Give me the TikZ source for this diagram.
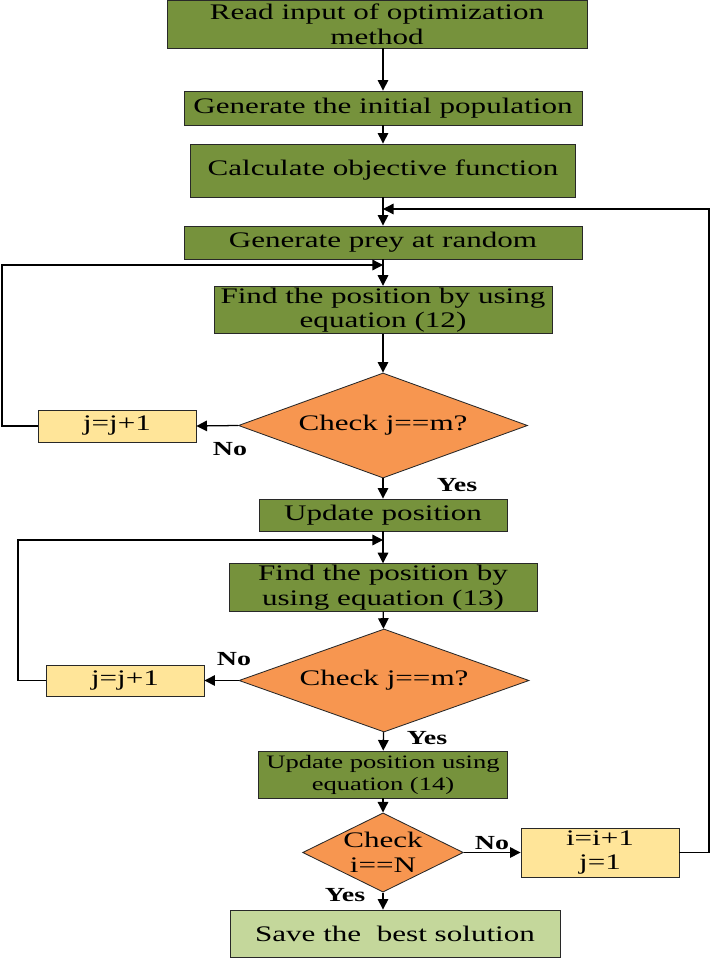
\documentclass[tikz,border=0pt]{standalone}
\usepackage{fontspec}
\setmainfont{Liberation Serif}[FakeStretch=1.4]
\usetikzlibrary{positioning, arrows.meta, shapes.geometric}
\definecolor{stepgreen}{RGB}{118,146,60}
\definecolor{checkorange}{RGB}{247,150,80}
\definecolor{countyellow}{RGB}{255,229,153}
\definecolor{endgreen}{RGB}{196,215,155}
\definecolor{edgegrey}{RGB}{40,40,40}
\tikzset{
    stepbox/.style={rectangle, draw=edgegrey, fill=stepgreen, line width=0.6pt, align=center, inner sep=1pt, font=\fontsize{15.8}{17.5}\selectfont},
    smallstep/.style={stepbox, font=\fontsize{13.5}{15.6}\selectfont},
    countbox/.style={stepbox, fill=countyellow},
    endbox/.style={stepbox, fill=endgreen},
    checkbox/.style={diamond, draw=edgegrey, fill=checkorange, line width=0.6pt, align=center, inner sep=0pt, font=\fontsize{15.8}{17.5}\selectfont},
    arr/.style={-{Triangle[length=7.5pt, width=7.5pt]}, line width=0.9pt, black},
    yesno/.style={font=\fontsize{14.2}{15}\selectfont\bfseries}
}
\begin{document}
\begin{tikzpicture}[x=0.025cm, y=-0.025cm]
    \useasboundingbox (0,0) rectangle (710,958);

    % Main steps
    \node[stepbox, minimum width=10.5cm, minimum height=1.2cm] (read) at (377,24) {Read input of optimization\\method};
    \node[stepbox, minimum width=9.95cm, minimum height=0.85cm] (pop) at (383,108) {Generate the initial population};
    \node[stepbox, minimum width=9.625cm, minimum height=1.325cm] (obj) at (383,170.5) {Calculate objective function};
    \node[stepbox, minimum width=9.95cm, minimum height=0.825cm] (prey) at (383,242.5) {Generate prey at random};

    % First inner loop
    \node[stepbox, minimum width=8.45cm, minimum height=1.15cm] (find1) at (383,310) {Find the position by using\\equation (12)};
    \node[checkbox, aspect=2.75, minimum width=7.225cm, minimum height=2.625cm] (chk1) at (383,425.5) {Check j==m?};
    \node[countbox, minimum width=3.95cm, minimum height=0.8cm] (inc1) at (117,426) {j=j+1};
    \node[stepbox, minimum width=6.2cm, minimum height=0.8cm] (upd1) at (383,515) {Update position};

    % Second inner loop
    \node[stepbox, minimum width=7.7cm, minimum height=1.125cm] (find2) at (383,587.5) {Find the position by\\using equation (13)};
    \node[checkbox, aspect=2.8, minimum width=7.25cm, minimum height=2.575cm] (chk2) at (384,680.5) {Check j==m?};
    \node[countbox, minimum width=3.95cm, minimum height=0.775cm] (inc2) at (125,680.5) {j=j+1};
    \node[smallstep, minimum width=6.225cm, minimum height=1.175cm] (upd2) at (383,774.5) {Update position using\\equation (14)};

    % Outer loop and end
    \node[checkbox, aspect=2.03, minimum width=3.9cm, minimum height=1.925cm] (chk3) at (383,852.5) {Check\\i==N};
    \node[countbox, minimum width=3.95cm, minimum height=1.225cm] (inc3) at (600,852.5) {i=i+1\\j=1};
    \node[endbox, minimum width=8.25cm, minimum height=1.175cm] (save) at (395,933.5) {Save the\ \ best solution};

    % Branch labels
    \node[yesno] (no1) at (230,449) {No};
    \node[yesno] (yes1) at (457,485) {Yes};
    \node[yesno] (no2) at (234,659) {No};
    \node[yesno] (yes2) at (427,738) {Yes};
    \node[yesno] (no3) at (492,843) {No};
    \node[yesno] (yes3) at (345,895) {Yes};

    % Junctions of the loops
    \coordinate (join0) at (383,209);
    \coordinate (right0) at (709,209);
    \coordinate (join1) at (383,265);
    \coordinate (left1) at (2,265);
    \coordinate (join2) at (383,540);
    \coordinate (left2) at (18,540);

    % Connectors
    \draw[arr] (read.south -| pop) -- (pop.north);
    \draw[arr] (pop) -- (obj);
    \draw[arr] (obj) -- (prey);
    \draw[arr] (prey) -- (find1);
    \draw[arr] (find1) -- (chk1);
    \draw[arr] (chk1.west) -- (inc1.east);
    \draw[arr] (chk1) -- (upd1);
    \draw[arr] (upd1) -- (find2);
    \draw[arr] (find2) -- (chk2);
    \draw[arr] (chk2.west) -- (inc2.east);
    \draw[arr] (chk2) -- (upd2);
    \draw[arr] (upd2) -- (chk3);
    \draw[arr] (chk3.east) -- (inc3.west);
    \draw[arr] (chk3.south) -- (chk3.south |- save.north);

    % Loop-back lines
    \draw[arr] (inc1.west) -| (left1) -- (join1);
    \draw[arr] (inc2.west) -| (left2) -- (join2);
    \draw[arr] (inc3.east) -| (right0) -- (join0);
\end{tikzpicture}
\end{document}
